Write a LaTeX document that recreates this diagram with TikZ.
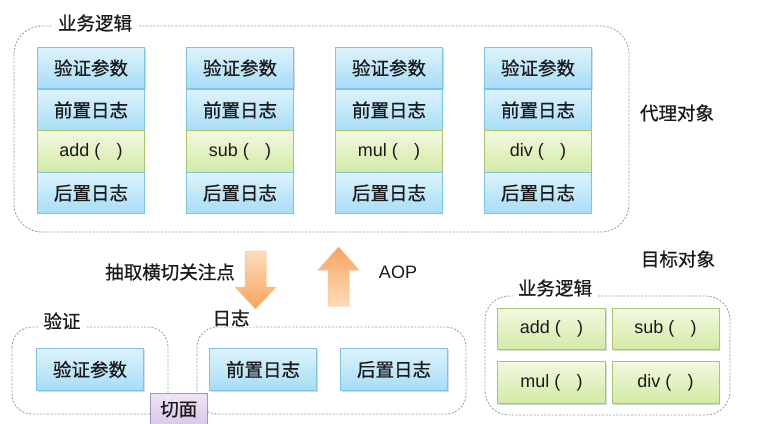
\documentclass[tikz,border=0pt]{standalone}
\usepackage{fontspec}
\setmainfont{Liberation Sans}
\newfontfamily\cjk[FakeBold=0.7]{Noto Sans CJK SC}
\usetikzlibrary{shadows}
\definecolor{dashc}{HTML}{8E9BB5}
\definecolor{bluetop}{HTML}{DDF3FC}
\definecolor{bluebot}{HTML}{A6DDF6}
\definecolor{blueline}{HTML}{7EC3E4}
\definecolor{greentop}{HTML}{F2F9E0}
\definecolor{greenbot}{HTML}{D2EAA4}
\definecolor{greenline}{HTML}{A9C56E}
\definecolor{purptop}{HTML}{EEE4F6}
\definecolor{purpbot}{HTML}{D9C8EA}
\definecolor{purpline}{HTML}{A791C6}
\definecolor{arrtop}{HTML}{FDDDBC}
\definecolor{arrbot}{HTML}{F6A45E}
\definecolor{txt}{HTML}{1A1A1A}
\newcommand{\cfont}{\cjk\fontsize{18.5}{18.5}\selectfont}
\newcommand{\lfont}{\fontsize{18}{18}\selectfont}
\tikzset{
  grp/.style={draw=dashc, line width=0.8pt, dash pattern=on 2pt off 1.6pt, rounded corners=28pt},
  grplbl/.style={fill=white, inner xsep=5pt, inner ysep=1pt, font=\cfont, text=txt},
  lbl/.style={font=\cfont, text=txt},
  bluebox/.style={draw=blueline, line width=0.6pt, top color=bluetop, bottom color=bluebot, minimum width=107pt, minimum height=41.5pt, inner sep=0pt, font=\cfont, text=txt},
  greenbox/.style={draw=greenline, line width=0.6pt, top color=greentop, bottom color=greenbot, minimum width=107pt, minimum height=41.5pt, inner sep=0pt, font=\lfont, text=txt},
  purpbox/.style={draw=purpline, line width=0.6pt, top color=purptop, bottom color=purpbot, inner sep=0pt, font=\cfont, text=txt},
  shad/.style={drop shadow={shadow xshift=1.2pt, shadow yshift=-1.5pt, opacity=0.25, fill=black!60}},
  bigarrow/.style={draw=arrbot!70!white, line width=0.5pt},
}
\begin{document}
\begin{tikzpicture}[x=1pt, y=-1pt]
\useasboundingbox (0,0) rectangle (773,423);
\fill[white] (0,0) rectangle (773,423);

% top group
\draw[grp] (14,26) rectangle (629,232);
\node[grplbl] (toplbl) at (95,23) {业务逻辑};
\node[lbl] (proxy) at (677,113) {代理对象};

% columns
\foreach \c/\x/\fn in {1/91/add, 2/240/sub, 3/389/mul, 4/538/div}{
  \node[bluebox, shad] (v\c) at (\x,68) {验证参数};
  \node[bluebox] (p\c) at (\x,110) {前置日志};
  \node[greenbox] (f\c) at (\x,151.5) {\fn\ (\hspace{0.9em})};
  \node[bluebox] (a\c) at (\x,193) {后置日志};
}

% arrows
\draw[bigarrow, top color=arrtop, bottom color=arrbot] (245,251) -- (266,251) -- (266,287) -- (276,287) -- (255.5,309) -- (235,287) -- (245,287) -- cycle;
\draw[bigarrow, top color=arrbot, bottom color=arrtop] (328,306) -- (349,306) -- (349,270) -- (359,270) -- (338.5,247) -- (318,270) -- (328,270) -- cycle;
\node[lbl] (extract) at (170,272) {抽取横切关注点};
\node[font=\lfont, text=txt] (aop) at (398,272) {AOP};

% bottom left groups
\draw[grp, rounded corners=20pt] (12,327) rectangle (168,414);
\node[grplbl] (yzlbl) at (62,321) {验证};
\node[bluebox, shad] (yzcs) at (90,369.5) {验证参数};

\draw[grp, rounded corners=20pt] (197,327) rectangle (466,414);
\node[grplbl] (rzlbl) at (231,318) {日志};
\node[bluebox, shad] (qz) at (263,369.5) {前置日志};
\node[bluebox, shad] (hz) at (394,369.5) {后置日志};

\node[purpbox, minimum width=57pt, minimum height=32pt, anchor=north west] (qm) at (150,393) {\raisebox{-3pt}{切面}};

% target
\node[lbl] (target) at (678,259) {目标对象};
\draw[grp, rounded corners=24pt] (485,296) rectangle (730,415);
\node[grplbl] (tlbl) at (555,288) {业务逻辑};
\node[greenbox, shad, minimum width=108pt] (g1) at (551.5,329) {add (\hspace{0.9em})};
\node[greenbox, shad, minimum width=107pt] (g2) at (665.5,329) {sub (\hspace{0.9em})};
\node[greenbox, shad, minimum width=108pt] (g3) at (551.5,382.5) {mul (\hspace{0.9em})};
\node[greenbox, shad, minimum width=107pt] (g4) at (665.5,382.5) {div (\hspace{0.9em})};
\end{tikzpicture}
\end{document}
